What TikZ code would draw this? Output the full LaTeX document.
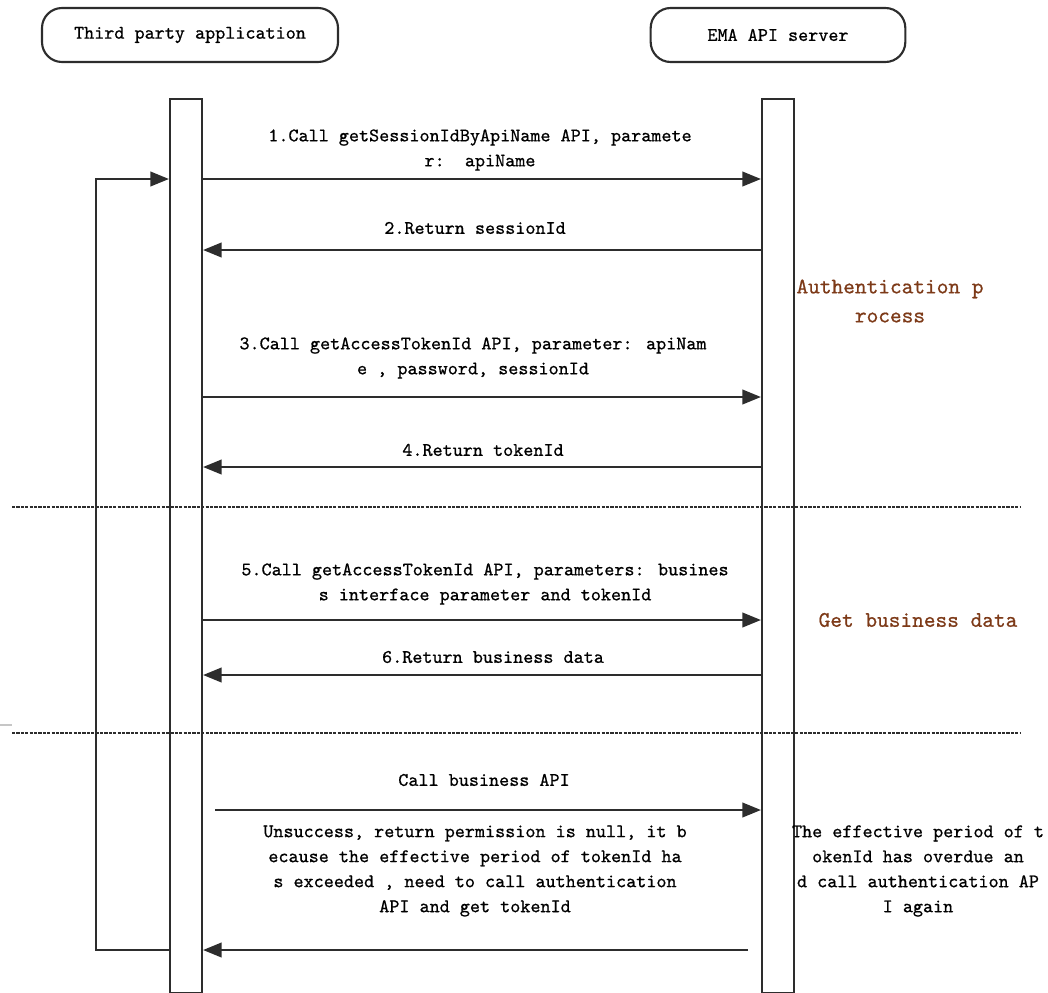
\documentclass[tikz,border=0pt]{standalone}
\usepackage{fontspec}
\usetikzlibrary{arrows.meta,positioning}
\definecolor{seqline}{RGB}{45,45,45}
\definecolor{notebrown}{RGB}{125,58,24}
\newfontfamily\seqmono{lmmono10-regular.otf}[FakeBold=0.7]
\newcommand\msgfont{\seqmono\fontsize{14.4}{18.75}\selectfont}
\newcommand\notefont{\seqmono\fontsize{16.7}{21.75}\selectfont}

\tikzset{
  actor/.style={draw=seqline, line width=1.6pt, rounded corners=15pt,
    minimum height=40.5pt, inner sep=0pt, font=\msgfont},
  lifebar/.style={draw=seqline, line width=1.6pt, fill=white, anchor=north,
    minimum width=24pt, minimum height=670.5pt, inner sep=0pt},
  msg/.style={draw=seqline, line width=1.6pt, -{Triangle[length=14pt,width=11pt]}},
  msgtext/.style={font=\msgfont, align=center, inner sep=0pt},
  notetext/.style={font=\notefont, align=center, inner sep=0pt, text=notebrown},
  phase/.style={draw=seqline, line width=2pt, dash pattern=on 2.4pt off 0.9pt}
}

\begin{document}
\begin{tikzpicture}[x=0.75pt, y=-0.75pt]
    \useasboundingbox (0,0) rectangle (1048,992);

    % Teilnehmer
    \node[actor, minimum width=222pt] (app) at (190,35) {Third party application};
    \node[actor, minimum width=191pt] (ema) at (778,35) {EMA API server};

    % Aktivierungsbalken
    \node[lifebar] (appbar) at (186,98) {};
    \node[lifebar] (emabar) at (778,98) {};

    % Hoehen der Nachrichten
    \foreach \n/\y in {1/179, 2/250, 3/397, 4/467, 5/620, 6/675, 7/810, 8/950}
        \coordinate (m\n) at (0,\y);
    \coordinate (m7s) at (215,810);
    \coordinate (m8s) at (748,950);

    % Phasentrenner
    \draw[phase] (12,507) -- (1020,507);
    \draw[phase] (12,733) -- (1020,733);
    \draw[gray!45, line width=0.8pt] (0,725) -- (12,725);

    % Authentifizierung
    \draw[msg] (appbar.east |- m1) -- (emabar.west |- m1);
    \node[msgtext] (t1) at (480,150) {1.Call getSessionIdByApiName API, paramete\\r:\ \ apiName};

    \draw[msg] (emabar.west |- m2) -- (appbar.east |- m2);
    \node[msgtext] (t2) at (475,228) {2.Return sessionId};

    \draw[msg] (appbar.east |- m3) -- (emabar.west |- m3);
    \node[msgtext] (t3) at (473,358) {3.Call getAccessTokenId API, parameter: apiNam\\e , password, sessionId};

    \draw[msg] (emabar.west |- m4) -- (appbar.east |- m4);
    \node[msgtext] (t4) at (483,450) {4.Return tokenId};

    \node[notetext] (auth) at (890,301) {Authentication p\\rocess};

    % Geschaeftsdaten
    \draw[msg] (appbar.east |- m5) -- (emabar.west |- m5);
    \node[msgtext] (t5) at (485,584) {5.Call getAccessTokenId API, parameters: busines\\s interface parameter and tokenId};

    \draw[msg] (emabar.west |- m6) -- (appbar.east |- m6);
    \node[msgtext] (t6) at (493,657) {6.Return business data};

    \node[notetext] (biz) at (918,620) {Get business data};

    % Token abgelaufen
    \draw[msg] (m7s) -- (emabar.west |- m7);
    \node[msgtext] (t7) at (484,780) {Call business API};

    \draw[msg] (m8s) -- (appbar.east |- m8);
    \node[msgtext] (t8) at (475,871) {Unsuccess, return permission is null, it b\\ecause the effective period of tokenId ha\\s exceeded , need to call authentication\\API and get tokenId};

    \node[msgtext] (expired) at (918,871) {The effective period of t\\okenId has overdue an\\d call authentication AP\\I again};

    % Schleife zurueck
    \draw[msg] (appbar.west |- m8) -- ++(-73,0) |- (appbar.west |- m1);

\end{tikzpicture}
\end{document}
